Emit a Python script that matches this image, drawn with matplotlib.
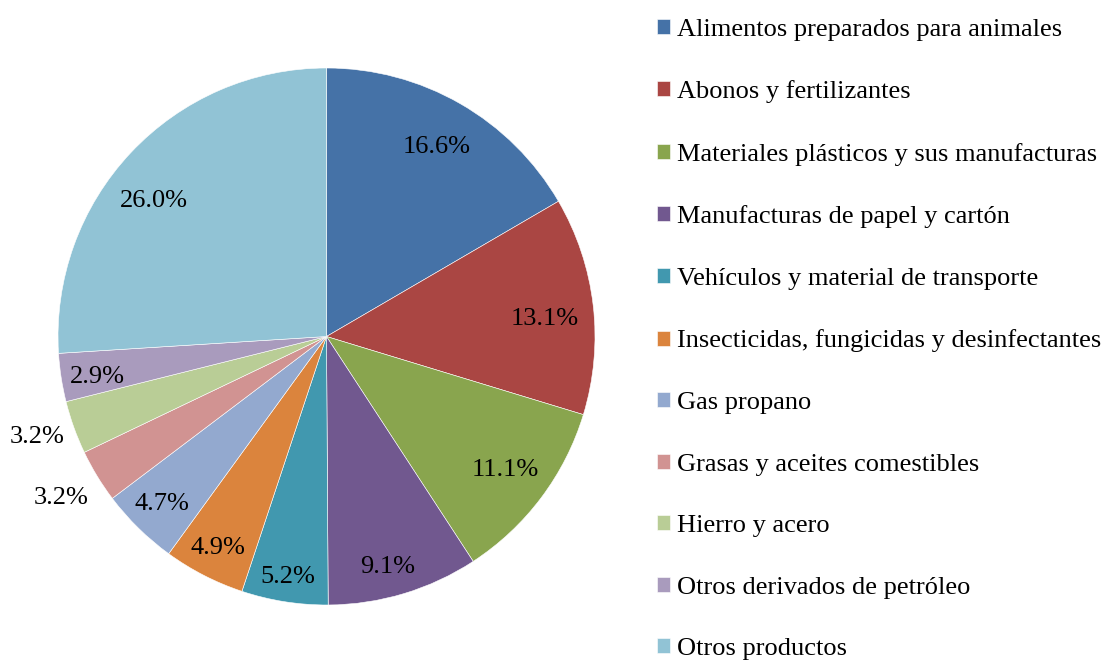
import matplotlib
matplotlib.use("Agg")
import matplotlib.pyplot as plt
import numpy as np

categories = [
    "Alimentos preparados para animales",
    "Abonos y fertilizantes",
    "Materiales plásticos y sus manufacturas",
    "Manufacturas de papel y cartón",
    "Vehículos y material de transporte",
    "Insecticidas, fungicidas y desinfectantes",
    "Gas propano",
    "Grasas y aceites comestibles",
    "Hierro y acero",
    "Otros derivados de petróleo",
    "Otros productos",
]
values = [16.6, 13.1, 11.1, 9.1, 5.2, 4.9, 4.7, 3.2, 3.2, 2.9, 26.0]
colors = ["#4572A7", "#AA4643", "#89A54E", "#71588F", "#4198AF", "#DB843D",
          "#93A9CF", "#D19392", "#B9CD96", "#A99BBD", "#91C3D5"]

# label placement (style only): fraction of radius and angular nudge (deg, clockwise)
label_dist = [0.817, 0.816, 0.829, 0.888, 0.907, 0.885, 0.876, 1.158, 1.139, 0.866, 0.817]
label_nudge = [0.4, 2.1, -0.2, 1.9, 0.2, 0.0, 0.0, 0.0, 0.7, -1.1, -4.9]

plt.rcParams['font.family'] = ['Liberation Serif', 'DejaVu Serif']

W, H = 1103, 661
fig = plt.figure(figsize=(W / 100, H / 100), dpi=100)
cx, cy, r = 326.5, 336.5, 268.5
ax = fig.add_axes([(cx - r) / W, (H - cy - r) / H, 2 * r / W, 2 * r / H])

wedges, texts, autotexts = ax.pie(
    values, colors=colors, startangle=90, counterclock=False,
    autopct=lambda p: f"{p:.1f}%", pctdistance=0.82,
    wedgeprops=dict(edgecolor="white", linewidth=0.4),
    textprops=dict(fontsize=19, color="black"))
ax.set_xlim(-1, 1)
ax.set_ylim(-1, 1)
ax.set_aspect('auto')

for i, w in enumerate(wedges):
    ang = np.deg2rad((w.theta1 + w.theta2) / 2 - label_nudge[i])
    d = label_dist[i]
    autotexts[i].set_position((d * np.cos(ang), d * np.sin(ang)))

leg = fig.legend(wedges, categories, loc="upper left",
                 bbox_to_anchor=(646 / W, 1 - 8 / H), frameon=False,
                 fontsize=19, handlelength=0.5, handleheight=0.5,
                 handletextpad=0.27, labelspacing=1.50, borderaxespad=0)

fig.savefig("out.png", dpi=100)
